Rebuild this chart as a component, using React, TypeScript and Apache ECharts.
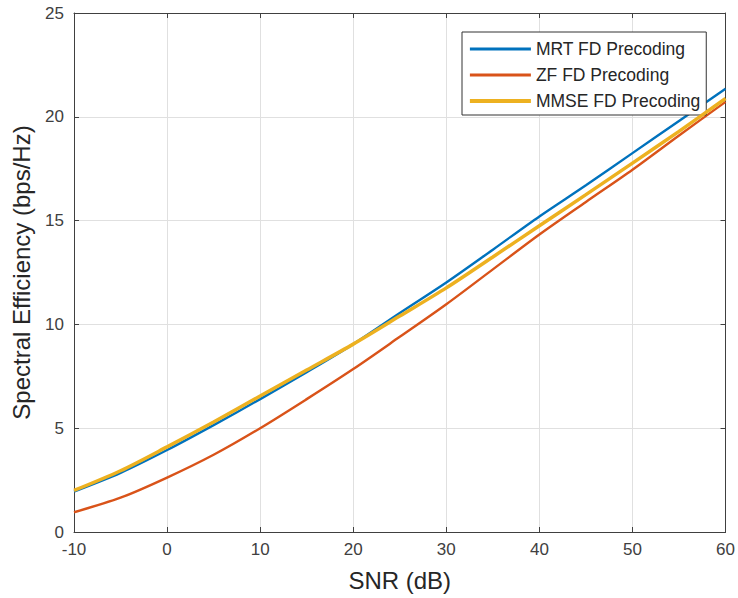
import React, { useEffect, useRef } from "react";
import * as echarts from "echarts";

const snrDb = [-10, -5, 0, 5, 10, 15, 20, 25, 30, 35, 40, 45, 50, 55, 60];
const mrtFd = [1.95, 2.85, 3.95, 5.15, 6.4, 7.7, 9.05, 10.55, 12.02, 13.6, 15.2, 16.7, 18.25, 19.8, 21.35];
const zfFd = [0.95, 1.65, 2.62, 3.72, 5.0, 6.4, 7.85, 9.4, 10.97, 12.65, 14.33, 15.9, 17.45, 19.1, 20.72];
const mmseFd = [2.0, 2.95, 4.1, 5.3, 6.55, 7.8, 9.05, 10.4, 11.76, 13.25, 14.75, 16.25, 17.77, 19.3, 20.88];

const seriesNames = ["MRT FD Precoding", "ZF FD Precoding", "MMSE FD Precoding"];
const xTitle = "SNR (dB)";
const yTitle = "Spectral Efficiency (bps/Hz)";

const FONT = "'Liberation Sans', Arial, sans-serif";
const AXIS = "#404040";
const GRID = "#e0e0e0";

export default function App() {
  const ref = useRef<HTMLDivElement>(null);
  useEffect(() => {
    if (!ref.current) return;
    const chart = echarts.init(ref.current, undefined, { renderer: "svg" });
    const toPairs = (ys: number[]) => snrDb.map((x, i) => [x, ys[i]]);
    const baseX = {
      type: "value" as const,
      min: -10,
      max: 60,
      interval: 10,
    };
    const baseY = {
      type: "value" as const,
      min: 0,
      max: 25,
      interval: 5,
    };
    const legendWidths = [2.8, 2.8, 3.8];
    chart.setOption({
      animation: false,
      backgroundColor: "#ffffff",
      textStyle: { fontFamily: FONT },
      grid: { left: 74, right: 8, top: 13, bottom: 66, containLabel: false },
      legend: {
        orient: "vertical",
        left: 462,
        top: 32,
        padding: [8, 6, 5, 6],
        itemWidth: 61,
        itemHeight: 17,
        itemGap: 8,
        backgroundColor: "#ffffff",
        borderColor: "#333333",
        borderWidth: 1,
        borderRadius: 0,
        itemStyle: { opacity: 0 },
        textStyle: { fontSize: 17.5, color: "#262626", fontFamily: FONT },
        data: seriesNames.map((n, i) => ({ name: n, lineStyle: { width: legendWidths[i] } })),
      },
      xAxis: [
        {
          ...baseX,
          position: "bottom",
          name: xTitle,
          nameLocation: "middle",
          nameGap: 36,
          nameTextStyle: { fontSize: 24, color: "#262626", fontFamily: FONT },
          axisLine: { show: true, onZero: false, lineStyle: { color: AXIS, width: 1 } },
          axisTick: { show: true, inside: true, length: 5, lineStyle: { color: AXIS } },
          axisLabel: { fontSize: 17, color: AXIS, margin: 9, fontFamily: FONT },
          splitLine: { show: true, lineStyle: { color: GRID, width: 1 } },
        },
        {
          ...baseX,
          position: "top",
          axisLine: { show: true, onZero: false, lineStyle: { color: AXIS, width: 1 } },
          axisTick: { show: true, inside: true, length: 5, lineStyle: { color: AXIS } },
          axisLabel: { show: false },
          splitLine: { show: false },
        },
      ],
      yAxis: [
        {
          ...baseY,
          position: "left",
          name: yTitle,
          nameLocation: "middle",
          nameGap: 41,
          nameTextStyle: { fontSize: 24, color: "#262626", fontFamily: FONT },
          axisLine: { show: true, onZero: false, lineStyle: { color: AXIS, width: 1 } },
          axisTick: { show: true, inside: true, length: 5, lineStyle: { color: AXIS } },
          axisLabel: { fontSize: 17, color: AXIS, margin: 10, fontFamily: FONT },
          splitLine: { show: true, lineStyle: { color: GRID, width: 1 } },
        },
        {
          ...baseY,
          position: "right",
          axisLine: { show: true, onZero: false, lineStyle: { color: AXIS, width: 1 } },
          axisTick: { show: true, inside: true, length: 5, lineStyle: { color: AXIS } },
          axisLabel: { show: false },
          splitLine: { show: false },
        },
      ],
      series: [
        {
          name: seriesNames[0],
          type: "line",
          xAxisIndex: 0,
          yAxisIndex: 0,
          data: toPairs(mrtFd),
          symbol: "none",
          smooth: 0.3,
          color: "#0072BD",
          lineStyle: { width: 2.4, color: "#0072BD" },
          z: 2,
        },
        {
          name: seriesNames[1],
          type: "line",
          xAxisIndex: 0,
          yAxisIndex: 0,
          data: toPairs(zfFd),
          symbol: "none",
          smooth: 0.3,
          color: "#D95319",
          lineStyle: { width: 2.4, color: "#D95319" },
          z: 3,
        },
        {
          name: seriesNames[2],
          type: "line",
          xAxisIndex: 0,
          yAxisIndex: 0,
          data: toPairs(mmseFd),
          symbol: "none",
          smooth: 0.3,
          color: "#EDB120",
          lineStyle: { width: 3.5, color: "#EDB120" },
          z: 4,
        },
      ],
    });
    return () => chart.dispose();
  }, []);
  return (
    <div
      ref={ref}
      style={{ position: "fixed", left: 0, top: 0, width: 738, height: 598, background: "#fff" }}
    />
  );
}
